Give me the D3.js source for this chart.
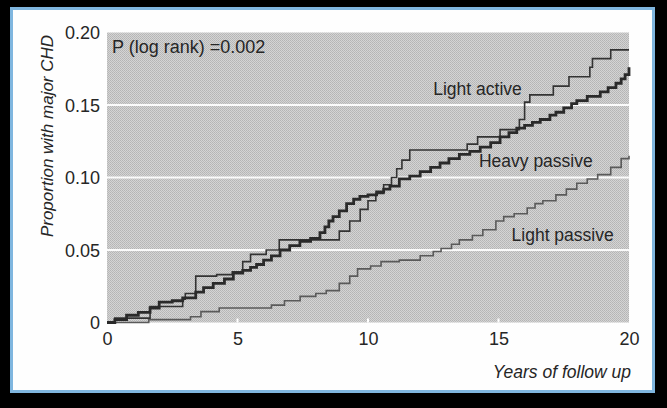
<!DOCTYPE html>
<html>
<head>
<meta charset="utf-8">
<script src="https://cdn.jsdelivr.net/npm/d3@7"></script>
<style>
html,body{margin:0;padding:0;background:#000;}
svg{display:block;}
text{font-family:"Liberation Sans",Arial,sans-serif;fill:#262626;}
</style>
</head>
<body>
<script>
// ---- data (years of follow up, cumulative proportion with major CHD) ----
const lightActiveYears = [0,0.3,1.65,2.9,3.0,3.4,4.2,4.8,5.2,5.5,6.1,6.6,8.9,9.3,9.7,10.0,10.3,10.6,10.9,11.1,11.3,11.6,13.8,14.2,15.06,15.8,16.0,16.2,17.1,17.7,18.5,18.6,19.3,20];
const lightActiveValues = [0,0.003,0.011,0.016,0.020,0.032,0.033,0.035,0.042,0.047,0.050,0.057,0.063,0.070,0.078,0.084,0.089,0.095,0.100,0.106,0.112,0.119,0.123,0.128,0.133,0.140,0.152,0.157,0.163,0.1695,0.176,0.182,0.188,0.188];

const heavyPassiveYears = [0,0.3,0.75,1.2,1.65,2.0,2.5,2.9,3.4,3.7,4.07,4.5,4.84,5.2,5.5,5.73,6.0,6.3,6.63,7.0,7.39,7.8,8.16,8.35,8.5,8.66,8.9,9.18,9.45,9.69,10.0,10.33,10.6,10.84,11.2,11.6,12.0,12.4,12.76,13.1,13.5,13.9,14.3,14.7,15.06,15.4,15.7,16.0,16.3,16.6,16.97,17.2,17.5,17.8,18.0,18.4,18.9,19.2,19.5,19.7,19.85,20];
const heavyPassiveValues = [0,0.002,0.005,0.007,0.010,0.014,0.015,0.017,0.021,0.024,0.027,0.030,0.034,0.036,0.038,0.040,0.043,0.046,0.050,0.053,0.056,0.058,0.062,0.066,0.070,0.073,0.077,0.082,0.085,0.087,0.088,0.090,0.092,0.094,0.099,0.101,0.104,0.107,0.110,0.113,0.116,0.118,0.121,0.124,0.128,0.131,0.134,0.136,0.138,0.140,0.143,0.145,0.148,0.151,0.153,0.156,0.159,0.162,0.165,0.168,0.171,0.176];

const lightPassiveYears = [0,1.6,3.2,3.6,4.3,6.0,6.3,6.8,7.4,8.0,8.4,8.9,9.3,9.6,10.1,10.5,11.2,12.0,12.5,12.8,13.2,13.5,14.0,14.4,14.9,15.2,15.6,16.1,16.4,16.7,17.2,17.6,18.0,18.4,18.8,19.3,19.7,20];
const lightPassiveValues = [0,0.002,0.004,0.0075,0.010,0.010,0.012,0.015,0.018,0.020,0.022,0.027,0.032,0.037,0.039,0.042,0.043,0.046,0.049,0.051,0.054,0.057,0.060,0.064,0.070,0.073,0.075,0.079,0.082,0.084,0.088,0.092,0.096,0.099,0.102,0.107,0.113,0.115];

const xTicks = [0,5,10,15,20];
const xTickLabels = ["0","5","10","15","20"];
const yTicks = [0,0.05,0.10,0.15,0.20];
const yTickLabels = ["0","0.05","0.10","0.15","0.20"];
const gridValues = [0.05,0.10,0.15];

const seriesNames = ["Light active","Heavy passive","Light passive"];
const labelYears = [12.5,14.25,15.5];
const labelValues = [0.157,0.107,0.056];

const W = 667, H = 408;
const svg = d3.select("body").append("svg").attr("width",W).attr("height",H);

// background
svg.append("rect").attr("width",W).attr("height",H).attr("fill","#000");
svg.append("rect").attr("x",11.5).attr("y",8.5).attr("width",642).attr("height",383)
  .attr("fill","#fefefe").attr("stroke","#7fb6df").attr("stroke-width",3);

// halftone-like pattern
const defs = svg.append("defs");
const pat = defs.append("pattern").attr("id","dots").attr("width",2).attr("height",2)
  .attr("patternUnits","userSpaceOnUse");
pat.append("rect").attr("width",2).attr("height",2).attr("fill","#d4d4d4");
pat.append("rect").attr("x",0).attr("y",0).attr("width",1).attr("height",1).attr("fill","#b4b4b4");
pat.append("rect").attr("x",1).attr("y",1).attr("width",1).attr("height",1).attr("fill","#bababa");

const x = d3.scaleLinear().domain([0,20]).range([107,629]);
const y = d3.scaleLinear().domain([0,0.2]).range([322.5,32.5]);

svg.append("rect").attr("x",x(0)).attr("y",y(0.2)).attr("width",x(20)-x(0)).attr("height",y(0)-y(0.2))
  .attr("fill","url(#dots)");

// gridlines
svg.selectAll(".grid").data(gridValues).enter().append("line")
  .attr("x1",x(0)).attr("x2",x(20)).attr("y1",d=>y(d)).attr("y2",d=>y(d))
  .attr("stroke","#fbfbfb").attr("stroke-width",2.2);

// small white ticks at bottom
svg.selectAll(".xt").data(xTicks.slice(1,4)).enter().append("line")
  .attr("x1",d=>x(d)).attr("x2",d=>x(d)).attr("y1",y(0)).attr("y2",y(0)-4)
  .attr("stroke","#fff").attr("stroke-width",2);

// axes (labels only)
const xAxis = d3.axisBottom(x).tickValues(xTicks).tickSize(0).tickPadding(0)
  .tickFormat((d,i)=>xTickLabels[i]);
const gx = svg.append("g").attr("transform",`translate(0,${y(0)})`).call(xAxis);
gx.select(".domain").remove();
gx.selectAll("text").attr("y",22).attr("dy",0).attr("font-size",18)
  .style("font-family","'Liberation Sans',Arial,sans-serif").attr("fill","#262626");

const yAxis = d3.axisLeft(y).tickValues(yTicks).tickSize(0).tickPadding(7)
  .tickFormat((d,i)=>yTickLabels[i]);
const gy = svg.append("g").attr("transform",`translate(${x(0)},0)`).call(yAxis);
gy.select(".domain").remove();
gy.selectAll("text").attr("font-size",18).attr("dy","0.35em")
  .style("font-family","'Liberation Sans',Arial,sans-serif").attr("fill","#262626");

// curves
const line = d3.line().x(d=>x(d[0])).y(d=>y(d[1])).curve(d3.curveStepAfter);
const zip = (a,b)=>a.map((v,i)=>[v,b[i]]);

svg.append("path").datum(zip(lightPassiveYears,lightPassiveValues))
  .attr("d",line).attr("fill","none").attr("stroke","#5a5a5a").attr("stroke-width",1.6);
svg.append("path").datum(zip(lightActiveYears,lightActiveValues))
  .attr("d",line).attr("fill","none").attr("stroke","#333").attr("stroke-width",1.6);
svg.append("path").datum(zip(heavyPassiveYears,heavyPassiveValues))
  .attr("d",line).attr("fill","none").attr("stroke","#2a2a2a").attr("stroke-width",2.8);

// series labels
svg.selectAll(".lab").data(seriesNames).enter().append("text")
  .attr("x",(d,i)=>x(labelYears[i])).attr("y",(d,i)=>y(labelValues[i]))
  .attr("font-size",17.5).text(d=>d);

// p-value
svg.append("text").attr("x",112).attr("y",53).attr("font-size",18).text("P (log rank) =0.002");

// axis titles
svg.append("text").attr("x",631).attr("y",378).attr("text-anchor","end")
  .attr("font-size",17.5).attr("font-style","italic").text("Years of follow up");
svg.append("text").attr("transform","translate(53,136) rotate(-90)").attr("text-anchor","middle")
  .attr("font-size",17).attr("font-style","italic").text("Proportion with major CHD");
</script>
</body>
</html>
